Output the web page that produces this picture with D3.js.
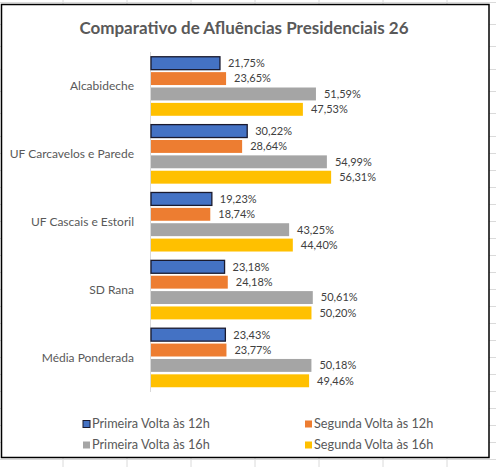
<!DOCTYPE html>
<html lang="pt">
<head>
  <meta charset="UTF-8">
  <title>Comparativo de Afluências Presidenciais 26</title>
  <style>
    html, body { margin: 0; padding: 0; background: #fff; overflow: hidden; }
    svg { display: block; }
  </style>
</head>
<body>
  <svg id="chart" width="496" height="467"></svg>

  <script src="https://d3js.org/d3.v7.min.js"></script>
  <script>
    // dados do gráfico
    const categories = ["Alcabideche", "UF Carcavelos e Parede", "UF Cascais e Estoril", "SD Rana", "Média Ponderada"];
    const seriesNames = ["Primeira Volta às 12h", "Segunda Volta às 12h", "Primeira Volta às 16h", "Segunda Volta às 16h"];
    const primeira12 = [21.75, 30.22, 19.23, 23.18, 23.43];
    const segunda12 = [23.65, 28.64, 18.74, 24.18, 23.77];
    const primeira16 = [51.59, 54.99, 43.25, 50.61, 50.18];
    const segunda16 = [47.53, 56.31, 44.40, 50.20, 49.46];

    const W = 496, H = 467;
    const FONT = "Lato, 'Open Sans', sans-serif";
    const colors = ["#4472C4", "#ED7D31", "#A5A5A5", "#FFC000"];

    const values = [primeira12, segunda12, primeira16, segunda16];
    const rows = categories.map((c, i) => ({
      cat: c,
      vals: values.map((arr, s) => ({ s: s, v: arr[i] }))
    }));

    const svg = d3.select("#chart");

    // grelha da folha de cálculo por trás do gráfico
    const colLines = d3.range(63, W, 64);
    const rowLines = [2, 24, 46, 69, 91, 113].concat(d3.range(136, H, 17));
    svg.append("g").selectAll("line").data(colLines).join("line")
      .attr("x1", d => d).attr("x2", d => d).attr("y1", 0).attr("y2", H)
      .attr("stroke", "#dadada").attr("stroke-width", 1);
    svg.append("g").selectAll("line").data(rowLines).join("line")
      .attr("x1", 0).attr("x2", W).attr("y1", d => d + 0.5).attr("y2", d => d + 0.5)
      .attr("stroke", "#dadada").attr("stroke-width", 1);

    // área do gráfico
    svg.append("rect")
      .attr("x", 1.5).attr("y", 4.5).attr("width", 487.5).attr("height", 453)
      .attr("fill", "#fff").attr("stroke", "#000").attr("stroke-width", 1.5);

    svg.append("text")
      .attr("x", 244).attr("y", 34)
      .attr("text-anchor", "middle")
      .style("font-family", FONT).style("font-size", "17px").style("font-weight", "bold")
      .attr("fill", "#595959")
      .text("Comparativo de Afluências Presidenciais 26");

    const x = d3.scaleLinear().domain([0, 60]).range([150, 343]);
    const y = d3.scaleBand().domain(categories).range([52, 392]).paddingInner(0.13).paddingOuter(0.07);
    const ys = d3.scaleBand().domain(d3.range(4)).range([0, y.bandwidth()]).paddingInner(0.16);

    const locale = d3.formatLocale({ decimal: ",", thousands: ".", grouping: [3], currency: ["", "€"] });
    const fmt = v => locale.format(".2f")(v) + "%";

    // eixo vertical das categorias
    const yAxis = svg.append("g")
      .attr("transform", `translate(${x(0)},0)`)
      .call(d3.axisLeft(y).tickSize(0).tickPadding(16));
    yAxis.select(".domain").attr("stroke", "#d9d9d9").attr("d", `M0.5,${y.range()[0]}V${y.range()[1]}`);
    yAxis.selectAll("text")
      .style("font-family", FONT).style("font-size", "12px").attr("fill", "#595959");

    const groups = svg.append("g").selectAll("g").data(rows).join("g")
      .attr("transform", d => `translate(0,${y(d.cat)})`);

    groups.selectAll("rect").data(d => d.vals).join("rect")
      .attr("x", x(0) + 1)
      .attr("y", d => ys(d.s))
      .attr("width", d => x(d.v) - x(0) - 1)
      .attr("height", ys.bandwidth())
      .attr("fill", d => colors[d.s])
      .attr("stroke", d => d.s === 0 ? "#1a1a2e" : "none")
      .attr("stroke-width", 1.3);

    groups.selectAll("text").data(d => d.vals).join("text")
      .attr("x", d => x(d.v) + 8)
      .attr("y", d => ys(d.s) + ys.bandwidth() / 2)
      .attr("dy", "0.35em")
      .style("font-family", FONT).style("font-size", "11px")
      .attr("fill", "#404040")
      .text(d => fmt(d.v));

    // legenda
    const legendPos = [[83, 424], [305, 424], [83, 445], [305, 445]];
    const legend = svg.append("g").selectAll("g").data(seriesNames).join("g")
      .attr("transform", (d, i) => `translate(${legendPos[i][0]},${legendPos[i][1]})`);
    legend.append("rect")
      .attr("x", 0).attr("y", -3.5).attr("width", 7).attr("height", 7)
      .attr("fill", (d, i) => colors[i])
      .attr("stroke", (d, i) => i === 0 ? "#1a1a2e" : "none")
      .attr("stroke-width", 1);
    legend.append("text")
      .attr("x", 9).attr("y", 0).attr("dy", "0.35em")
      .style("font-family", FONT).style("font-size", "12.7px")
      .attr("fill", "#595959")
      .text(d => d);
  </script>
</body>
</html>
